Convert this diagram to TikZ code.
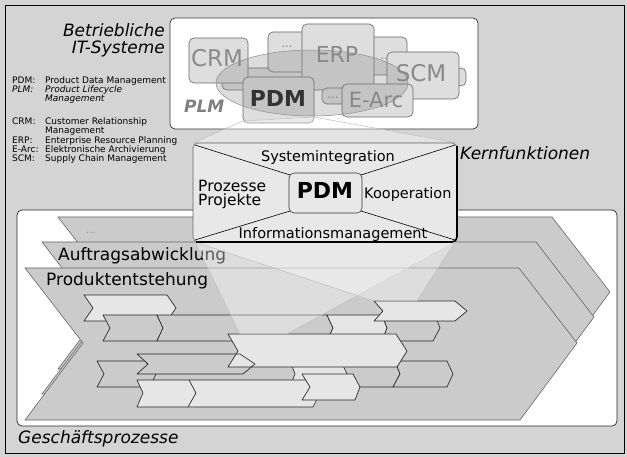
\documentclass[tikz,border=0pt]{standalone}
\usepackage{fontspec}
\setmainfont{DejaVu Sans}
\definecolor{bg}{HTML}{D4D4D4}
\definecolor{chev}{HTML}{CBCBCB}
\definecolor{lite}{HTML}{E6E6E6}
\definecolor{boxg}{HTML}{DEDEDE}
\definecolor{txtg}{HTML}{8A8A8A}
\definecolor{kernf}{HTML}{E8E8E8}
\newcommand\fs[1]{\fontsize{#1}{#1}\selectfont}
\begin{document}
\begin{tikzpicture}[x=1pt,y=-1pt,
  bigchev/.style={fill=chev,draw=black!60,line width=0.6pt},
  stepL/.style={fill=lite,draw=black!85,line width=0.65pt,line join=round},
  stepG/.style={fill=chev,draw=black!85,line width=0.65pt,line join=round},
  itbox/.style={rounded corners=5pt,fill=boxg,draw=black!60,line width=0.6pt},
  ittxt/.style={text=txtg,inner sep=0,anchor=base},
  beam/.style={fill=white,fill opacity=0.35,draw=black!25,line width=0.5pt},
  big/.style={font=\fs{17}\itshape,inner sep=0},
  leg/.style={font=\fs{9},inner sep=0,anchor=base west},
  kern/.style={font=\fs{14.5},inner sep=0,anchor=base},
  chevtxt/.style={font=\fs{17},inner sep=0,anchor=base west},
]
\useasboundingbox (0,0) rectangle (627,457);
\fill[bg] (0,0) rectangle (627,457);
\draw[line width=0.9pt,fill=bg] (5,5) rectangle (624,453);

% ---------- left titles and legend
\node[big,anchor=base east] (t1) at (165,37) {Betriebliche};
\node[big,anchor=base east] (t2) at (165,54) {IT-Systeme};
\node[leg] (l1a) at (12,84) {PDM:};
\node[leg] (l1b) at (45,84) {Product Data Management};
\node[leg,font=\fs{9}\itshape] (l2a) at (12,93) {PLM:};
\node[leg,font=\fs{9}\itshape] (l2b) at (45,93) {Product Lifecycle};
\node[leg,font=\fs{9}\itshape] (l2c) at (45,102) {Management};
\node[leg] (l3a) at (12,125) {CRM:};
\node[leg] (l3b) at (45,125) {Customer Relationship};
\node[leg] (l3c) at (45,134) {Management};
\node[leg] (l4a) at (12,144) {ERP:};
\node[leg] (l4b) at (45,144) {Enterprise Resource Planning};
\node[leg] (l5a) at (12,153) {E-Arc:};
\node[leg] (l5b) at (45,153) {Elektronische Archivierung};
\node[leg] (l6a) at (12,162) {SCM:};
\node[leg] (l6b) at (45,162) {Supply Chain Management};

% ---------- IT systems box
\draw[fill=white,draw=black!80,line width=0.7pt,rounded corners=5pt] (170,18) rectangle (478,129);
\draw[itbox] (222,68) rectangle (305,90);
\draw[itbox] (268,32) rectangle (320,72);
\node[ittxt,font=\fs{12}] (d1) at (287,48) {...};
\draw[itbox] (189,38) rectangle (248,83);
\node[ittxt,font=\fs{23}] (crm) at (217,67) {CRM};
\draw[itbox] (355,37) rectangle (407,75);
\node[ittxt,font=\fs{12}] (d2) at (386,60) {...};
\draw[itbox] (456,68) rectangle (466,86);
\draw[itbox] (387,52) rectangle (459,99);
\node[ittxt,font=\fs{23}] (scm) at (421,82) {SCM};
\draw[itbox] (302,24) rectangle (374,90);
\node[ittxt,font=\fs{22}] (erp) at (337,63) {ERP};
\draw[itbox] (322,88) rectangle (350,104);
\node[ittxt,font=\fs{12}] (d3) at (333,99) {...};
\draw[itbox] (342,84) rectangle (413,117);
\node[ittxt,font=\fs{21}] (earc) at (376,108) {E-Arc};
\draw[itbox] (243,77) rectangle (314,123);
\draw[fill=black!50,fill opacity=0.27,draw=black!45,line width=0.5pt] (312,83) ellipse [x radius=96, y radius=33];
\node[inner sep=0,anchor=base,text=black!80,font=\fs{22}\bfseries] (pdm1) at (278,107) {PDM};
\node[inner sep=0,anchor=base west,text=black!50,font=\fs{17}\bfseries\itshape] (plm) at (184,113) {PLM};

% ---------- process area
\draw[fill=white,draw=black!85,line width=0.7pt,rounded corners=5pt] (17,210) rectangle (617,426);
\draw[bigchev] (58,217) -- (552,217) -- (610,292) -- (553,369) -- (58,369) -- (116,292) -- cycle;
\draw[bigchev] (42,242) -- (536,242) -- (594,317) -- (537,394) -- (42,394) -- (100,317) -- cycle;
\draw[bigchev] (25,268) -- (519,268) -- (577,343) -- (520,420) -- (25,420) -- (83,343) -- cycle;
\node[chevtxt,font=\fs{10},text=black!45] (pd) at (86,234) {...};
\node[chevtxt] (auf) at (58,261) {Auftragsabwicklung};
\node[chevtxt] (prod) at (46,286) {Produktentstehung};

% step chevrons
\draw[stepL] (84,295) -- (167,295) -- (176,308) -- (167,321) -- (84,321) -- (93,308) -- cycle;
\draw[stepG] (103,315) -- (157,315) -- (163,328) -- (157,341) -- (103,341) -- (110,328) -- cycle;
\draw[stepG] (157,315) -- (327,315) -- (333,328) -- (327,341) -- (157,341) -- (163,328) -- cycle;
\draw[stepL] (327,315) -- (382,315) -- (387,328) -- (382,341) -- (327,341) -- (333,328) -- cycle;
\draw[stepG] (382,315) -- (435,315) -- (440,328) -- (433,341) -- (382,341) -- (387,328) -- cycle;
\draw[stepL] (374,301) -- (455,301) -- (467,311) -- (455,321) -- (374,321) -- (383,311) -- cycle;
\draw[stepG] (145,361) -- (395,361) -- (400,374) -- (393,387) -- (145,387) -- (156,374) -- cycle;
\draw[stepL] (290,361) -- (341,361) -- (347,374) -- (342,387) -- (290,387) -- (295,374) -- cycle;
\draw[stepG] (395,361) -- (447,361) -- (453,374) -- (447,387) -- (393,387) -- (400,374) -- cycle;
\draw[stepG] (97,361) -- (145,361) -- (156,374) -- (150,387) -- (97,387) -- (104,374) -- cycle;
\fill[chev] (137,354) -- (240,354) -- (255,364) -- (243,374) -- (137,374) -- (148,364) -- cycle;
\draw[stepL] (228,334) -- (396,334) -- (407,351) -- (397,367) -- (228,367) -- (238,351) -- cycle;
\draw[black!85,line width=0.65pt,line join=round] (137,354) -- (240,354) -- (255,364) -- (243,374) -- (137,374) -- (148,364) -- cycle;
\draw[stepL] (137,380) -- (313,380) -- (320,393) -- (313,407) -- (137,407) -- (143,393) -- cycle;
\draw[black!85,line width=0.65pt] (189,380) -- (196,393) -- (188,407);
\draw[stepL] (302,374) -- (353,374) -- (360,387) -- (355,400) -- (302,400) -- (310,387) -- cycle;

\node[big,anchor=base west] (gp) at (18,443) {Geschäftsprozesse};

% ---------- beams
\draw[beam] (195,242) -- (455,242) -- (287,334) -- (240,334) -- cycle;
\draw[beam] (195,242) -- (455,242) -- (417,301) -- (374,301) -- cycle;
\draw[beam] (243,121) -- (314,117) -- (457,143) -- (193,143) -- cycle;

% ---------- core functions box
\draw[fill=kernf,draw=black!60,line width=0.6pt,rounded corners=5pt] (193,143) rectangle (457,242);
\draw[line width=1.6pt,rounded corners=5pt] (457,146) -- (457,242) -- (196,242);
\draw[line width=0.6pt] (195,145) -- (290,175) (455,145) -- (361,175) (195,240) -- (290,211) (455,240) -- (361,211);
\draw[fill=kernf,draw=black!80,line width=0.6pt,rounded corners=5pt] (289,173) rectangle (362,213);
\node[inner sep=0,anchor=base,font=\fs{22}\bfseries] (pdm2) at (325,199) {PDM};
\node[kern] (sys) at (328,162) {Systemintegration};
\node[kern,anchor=base west] (koop) at (364,199) {Kooperation};
\node[kern,anchor=base west,font=\fs{15.5}] (proz) at (198,192) {Prozesse};
\node[kern,anchor=base west,font=\fs{15.5}] (proj) at (198,206) {Projekte};
\node[kern] (inf) at (333,239) {Informationsmanagement};
\node[big,anchor=base west] (kf) at (460,160) {Kernfunktionen};
\end{tikzpicture}
\end{document}
